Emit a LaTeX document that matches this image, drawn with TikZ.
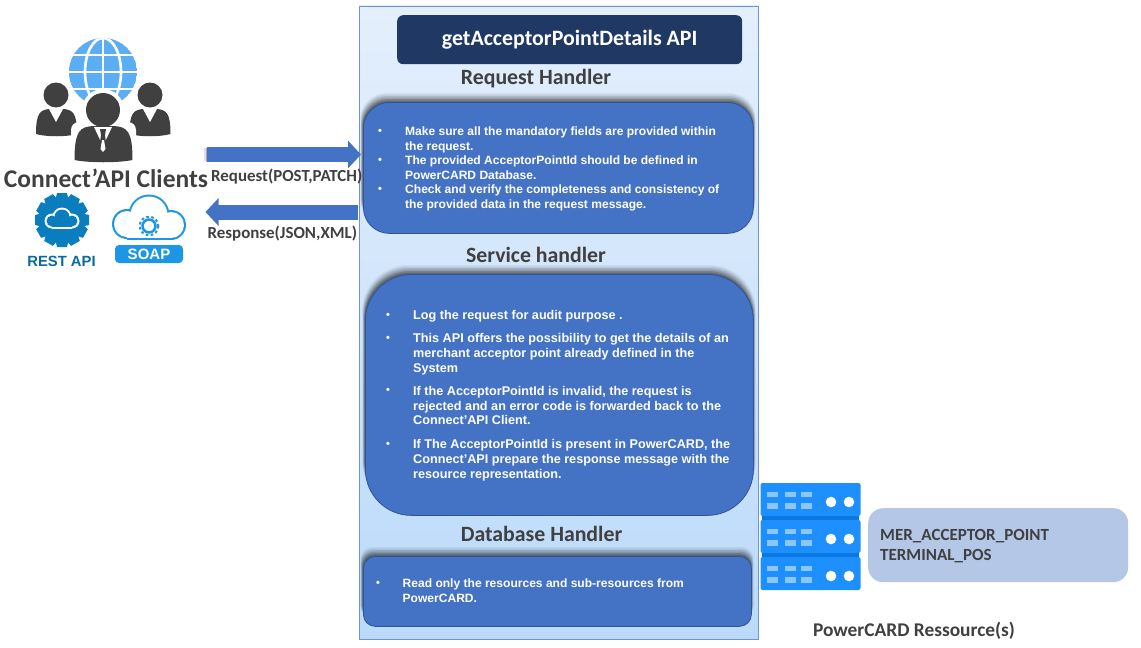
\documentclass[tikz,border=0pt]{standalone}
\usepackage{fontspec}
\setmainfont{Carlito}
\newfontfamily\bodyfont{Liberation Sans}
\usetikzlibrary{arrows.meta,positioning}
\definecolor{panelTop}{HTML}{E4EFFC}
\definecolor{panelBot}{HTML}{BBDAFA}
\definecolor{panelEdge}{HTML}{6F93D8}
\definecolor{boxBlue}{HTML}{4472C4}
\definecolor{boxEdge}{HTML}{2F5597}
\definecolor{navy}{HTML}{1F3864}
\definecolor{pale}{HTML}{B4C7E7}
\definecolor{ink}{HTML}{404040}
\definecolor{person}{HTML}{404040}
\definecolor{globeBlue}{HTML}{5CAEF4}
\definecolor{srv}{HTML}{1E8FFF}
\definecolor{srvDark}{HTML}{0A78E0}
\definecolor{srvLight}{HTML}{8CC6FF}
\definecolor{gearBlue}{HTML}{0A7DBE}
\definecolor{soapBlue}{HTML}{1E96E6}
\tikzset{
  handler/.style={font=\bfseries\fontsize{21.8}{24}\selectfont,text=ink,inner sep=0pt},
  bodytext/.style={font=\bodyfont\bfseries\fontsize{12.05}{14.6}\selectfont,text=white,align=left,anchor=north west,inner sep=0pt},
  servicetext/.style={bodytext,font=\bodyfont\bfseries\fontsize{12.65}{14.8}\selectfont},
  bulletmark/.style={font=\bodyfont\bfseries\fontsize{11}{12}\selectfont,text=white,inner sep=0pt},
  smalllabel/.style={font=\bfseries\fontsize{16.9}{18}\selectfont,text=ink,inner sep=0pt},
  blockbox/.style={draw=boxEdge,line width=0.8pt,fill=boxBlue},
  flow/.style={draw=boxBlue,line width=15pt,-{Triangle[length=13pt,width=27pt]}}
}
\newcommand{\softshadow}[5]{% x1 y1 x2 y2 radius
  \foreach \d/\o in {9/.05,7.5/.08,6/.10,4.5/.13,3/.16,1.5/.2}{
    \fill[black,opacity=\o,rounded corners=#5 pt] (#1-\d*0.3,#2-\d) rectangle (#3+\d*0.3,#4-8);
  }
}
\newcommand{\serverunit}[1]{%
  \fill[srv,rounded corners=2pt] (760.5,#1) rectangle (860.5,#1+33);
  \foreach \sx in {767,785,801}{
    \fill[srvLight] (\sx,#1+8.5) rectangle ++(10.5,5.5);
    \fill[srvLight] (\sx,#1+20) rectangle ++(10.5,5.5);
  }
  \fill[white] (831,#1+19) circle (5.3);
  \fill[white] (849,#1+19) circle (5.3);
}
\newcommand{\personbody}[4]{% cx, halfwidth, top, bottom
  \fill[person] (#1-#2,#4) .. controls (#1-#2,#3+4) and (#1-#2*0.8,#3+1) .. (#1-#2*0.35,#3)
     -- (#1+#2*0.35,#3) .. controls (#1+#2*0.8,#3+1) and (#1+#2,#3+4) .. (#1+#2,#4)
     .. controls (#1+#2*0.5,#4+3) and (#1-#2*0.5,#4+3) .. (#1-#2,#4) -- cycle;
}
\begin{document}
\begin{tikzpicture}[x=1pt,y=-1pt]
\useasboundingbox (0,0) rectangle (1141,648);
\fill[white] (0,0) rectangle (1141,648);

% panel
\node[draw=panelEdge,line width=0.9pt,minimum width=399pt,minimum height=633pt,inner sep=0pt,
      top color=panelTop,bottom color=panelBot,anchor=north west] (panel) at (359,5.5) {};

% title
\node[fill=navy,rounded corners=6pt,minimum width=345pt,minimum height=49pt,inner sep=0pt,anchor=north west,
      text=white,font=\bfseries\fontsize{21.9}{24}\selectfont] (title) at (397,15) {\raisebox{-1pt}{getAcceptorPointDetails API}};

\node[handler] (reqh) at (536,79) {Request Handler};
\node[handler] (srvh) at (536,255) {Service handler};
\node[handler] (dbh) at (541.5,534) {Database Handler};

% blue boxes
\softshadow{363}{102}{753}{233}{26}
\softshadow{365}{274}{753}{515}{46}
\softshadow{363}{556}{751}{626}{12}
\node[blockbox,rounded corners=26pt,minimum width=390pt,minimum height=131pt,inner sep=0pt,anchor=north west] (req) at (363,102) {};
\node[blockbox,rounded corners=46pt,minimum width=388pt,minimum height=241pt,inner sep=0pt,anchor=north west] (svc) at (365,274) {};
\node[blockbox,rounded corners=12pt,minimum width=388pt,minimum height=70pt,inner sep=0pt,anchor=north west] (db) at (363,556) {};

% request text
\node[bulletmark] (b1) at (380,132) {•};
\node[bulletmark] (b2) at (380,161) {•};
\node[bulletmark] (b3) at (380,190) {•};
\node[bodytext] (t1) at (405,126.5) {Make sure all the mandatory fields are provided within\\the request.\\The provided AcceptorPointId should be defined in\\PowerCARD Database.\\Check and verify the completeness and consistency of\\the provided data in the request message.};

% service text
\node[bulletmark] (s1) at (388,316) {•};
\node[servicetext] (s1t) at (413,310.5) {Log the request for audit purpose .};
\node[bulletmark] (s2) at (388,339) {•};
\node[servicetext] (s2t) at (413,333.5) {This API offers the possibility to get the details of an\\merchant acceptor point already defined in the\\System};
\node[bulletmark] (s3) at (388,391) {•};
\node[servicetext] (s3t) at (413,386) {If the AcceptorPointId is invalid, the request is\\rejected and an error code is forwarded back to the\\Connect’API Client.};
\node[bulletmark] (s4) at (388,445) {•};
\node[servicetext] (s4t) at (413,439.5) {If The AcceptorPointId is present in PowerCARD, the\\Connect’API prepare the response message with the\\resource representation.};

% db text
\node[bulletmark] (d1) at (378,584) {•};
\node[bodytext] (d1t) at (402.5,579) {Read only the resources and sub-resources from\\PowerCARD.};

% left group: globe
\begin{scope}
  \clip (103,72) circle (34);
  \fill[globeBlue] (103,72) circle (34);
  \draw[white,line width=2.6pt] (103,36) -- (103,108);
  \draw[white,line width=2.6pt] (103,72) ellipse (18 and 34);
  \foreach \gy in {55,72,89}{\draw[white,line width=2.6pt] (60,\gy) -- (146,\gy);}
\end{scope}
% people
\fill[white] (103,110) circle (21);
\fill[person] (56,95) circle (12.5);
\fill[person] (150,95) circle (12.5);
\personbody{56.5}{20.5}{109}{134}
\personbody{150}{20.5}{109}{134}
\fill[white] (49,109) -- (63,109) -- (56,122) -- cycle;
\fill[white] (143,109) -- (157,109) -- (150,122) -- cycle;
\fill[white,rounded corners=8pt] (71,122) rectangle (136,150);
\personbody{103.5}{29}{126}{160}
\fill[person] (103,110) circle (17);
\fill[white] (94,127) -- (112,127) -- (103,146) -- cycle;
\fill[person] (100,129) -- (106,129) -- (105,135) -- (107,150) -- (103,155) -- (99,150) -- (101,135) -- cycle;
\fill[white] (102,140) -- (104,140) -- (105.5,149) -- (103,152) -- (100.5,149) -- cycle;

\node[font=\bfseries\fontsize{25.5}{28}\selectfont,text=ink,inner sep=0pt] (clients) at (106,178) {Connect’API Clients};

% REST gear
\foreach \a in {0,30,...,330}{
  \fill[gearBlue,rotate around={\a:(62,220)}] (57,193) -- (67,193) -- (69.5,204) -- (54.5,204) -- cycle;
}
\fill[gearBlue] (62,220) circle (22);
\fill[white] (52,221) circle (7.5);
\fill[white] (72,221) circle (7.5);
\fill[white] (62,217) circle (9.5);
\fill[white] (52,222) rectangle (72,228.5);
\fill[gearBlue] (52,221) circle (5.5);
\fill[gearBlue] (72,221) circle (5.5);
\fill[gearBlue] (62,217) circle (7.5);
\fill[gearBlue] (52,220) rectangle (72,226.5);
\node[font=\bodyfont\bfseries\fontsize{14.8}{18}\selectfont,text=gearBlue!85!black,inner sep=0pt] (rest) at (61.5,261.5) {REST API};

% SOAP cloud
\fill[soapBlue] (127,224) circle (15);
\fill[soapBlue] (149,215) circle (20.5);
\fill[soapBlue] (171,225) circle (15);
\fill[soapBlue] (127,225) rectangle (171,240);
\fill[white] (127,224) circle (13);
\fill[white] (149,215) circle (18.5);
\fill[white] (171,225) circle (13);
\fill[white] (127,226) rectangle (171,238);
\draw[soapBlue,line width=2.5pt] (149,226) circle (6.5);
\draw[soapBlue,line width=2pt,dash pattern=on 2.6pt off 2.5pt] (149,226) circle (9.3);
\node[fill=soapBlue,rounded corners=4pt,minimum width=68pt,minimum height=18pt,inner sep=0pt,text=white,
      font=\bodyfont\bfseries\fontsize{15}{18}\selectfont] (soap) at (149,254) {SOAP};

% arrows
\coordinate (reqstart) at (207,154.5);
\coordinate (respend) at (205.5,212);
\fill[black,opacity=.12] (203.5,148) rectangle (207,161);
\fill[black,opacity=.25] (205.5,147.5) rectangle (207,161.5);
\draw[flow] (reqstart) -- ([xshift=-2pt]req.west |- reqstart);
\draw[flow] ([xshift=-7pt]svc.west |- respend) -- (respend);
\node[smalllabel,anchor=west] (rql) at (211,177) {Request(POST,PATCH)};
\node[smalllabel,anchor=west] (rsl) at (207.5,233.5) {Response(JSON,XML)};

% servers
\fill[srvDark] (762,514) rectangle (859,521);
\fill[srvDark] (762,551) rectangle (859,558);
\serverunit{483}
\serverunit{520}
\serverunit{557}

% resources
\node[fill=pale,rounded corners=15pt,minimum width=260pt,minimum height=74pt,inner sep=0pt,anchor=north west] (res) at (868,508) {};
\node[font=\bfseries\fontsize{17}{20}\selectfont,text=ink,align=left,inner sep=0pt,anchor=west] (restext) at (880,546) {MER\_ACCEPTOR\_POINT\\TERMINAL\_POS};
\node[font=\bfseries\fontsize{19.4}{21}\selectfont,text=ink,inner sep=0pt] (pc) at (914,631) {PowerCARD Ressource(s)};
\end{tikzpicture}
\end{document}
